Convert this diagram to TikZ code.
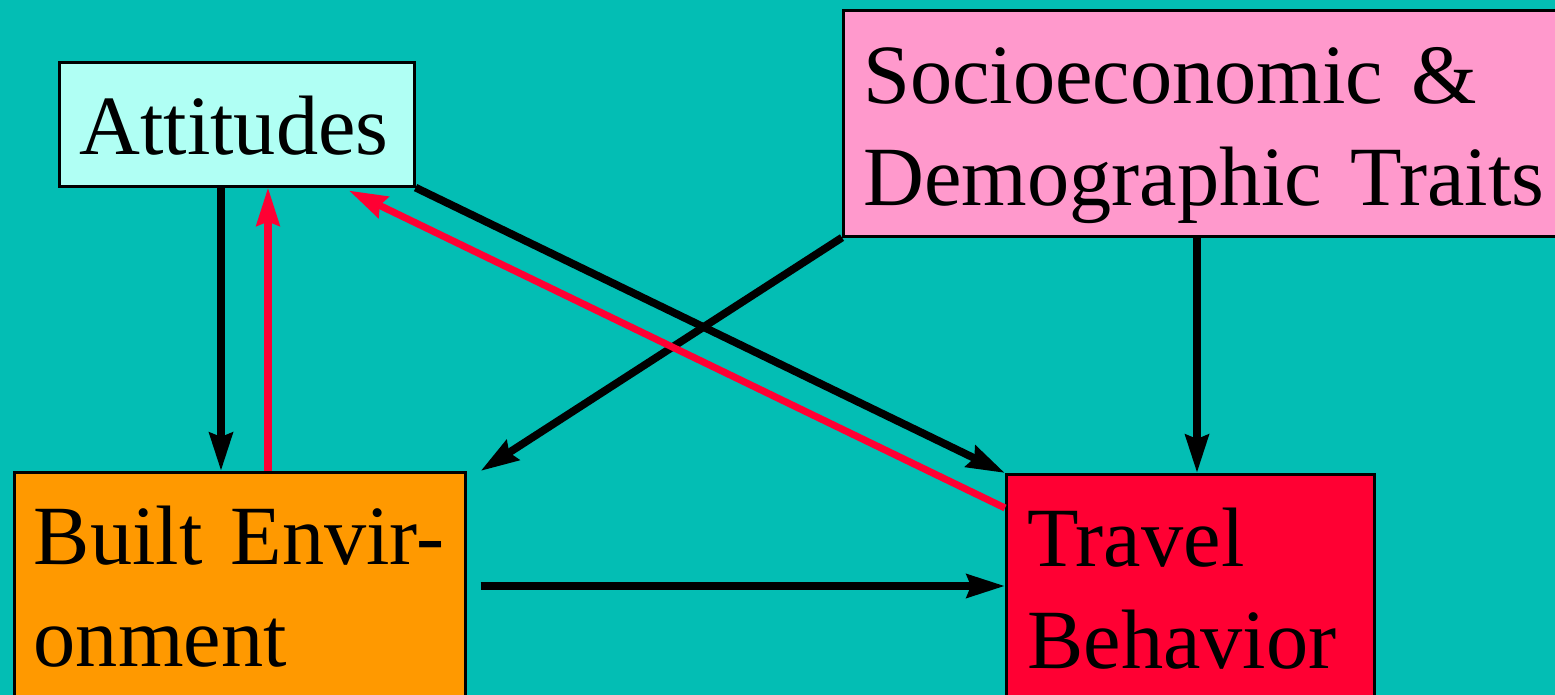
\documentclass[tikz,border=0pt]{standalone}
\usepackage{fontspec}
\setmainfont{Liberation Serif}
\usetikzlibrary{arrows.meta,calc}

\definecolor{sea}{RGB}{3,190,180}
\definecolor{attfill}{RGB}{176,255,244}
\definecolor{socfill}{RGB}{255,153,204}
\definecolor{bexfill}{RGB}{255,153,0}
\definecolor{tbhfill}{RGB}{255,0,51}

\begin{document}
\begin{tikzpicture}[x=0.02cm, y=-0.02cm,
	box/.style={draw, line width=1.5pt, anchor=north west, align=left, inner ysep=0pt, font=\fontsize{48}{58}\selectfont},
	arr/.style={line width=4.4pt, -{Stealth[length=0.76cm, width=0.46cm, inset=0.08cm]}},
	back/.style={arr, draw=tbhfill, line width=4pt}]
	
	\useasboundingbox (0,0) rectangle (1555,695);
	\clip (0,0) rectangle (1555,695);
	\fill[sea] (0,0) rectangle (1555,695);
	
	\node[box, fill=attfill, text width=6.3cm, inner xsep=0.4cm, text height=1.84cm, text depth=0.64cm] (att) at (58,61) {Attitudes};
	\node[box, fill=socfill, text width=14cm, inner xsep=0.4cm, text height=1.86cm, text depth=2.66cm] (soc) at (842,9) {Socioeconomic \&\\Demographic Traits};
	\node[box, fill=bexfill, text width=8.24cm, inner xsep=0.39cm, text height=1.84cm, text depth=2.84cm] (bex) at (13,471) {Built Envir-\\onment};
	\node[box, fill=tbhfill, text width=6.52cm, inner xsep=0.42cm, text height=1.84cm, text depth=2.8cm] (tbh) at (1005,473) {Travel\\Behavior};
	
	\draw[arr] ($(att.south west)+(163,0)$) coordinate (a1) -- (a1 |- bex.north);
	\draw[back] ($(bex.north west)+(255,0)$) coordinate (r1) -- (r1 |- att.south);
	\draw[arr] (att.south east) -- (tbh.north west);
	\draw[arr] (soc.south west) -- ($(bex.north east)+(14,0)$);
	\draw[arr] ($(soc.south west)+(355,0)$) coordinate (s1) -- (s1 |- tbh.north);
	\draw[arr] ($(bex.north east)+(14,115)$) coordinate (h1) -- (h1 -| tbh.west);
	\draw[back] ($(tbh.north west)+(0,35)$) -- ($(att.south west)+(291,3)$);
	
\end{tikzpicture}
\end{document}
